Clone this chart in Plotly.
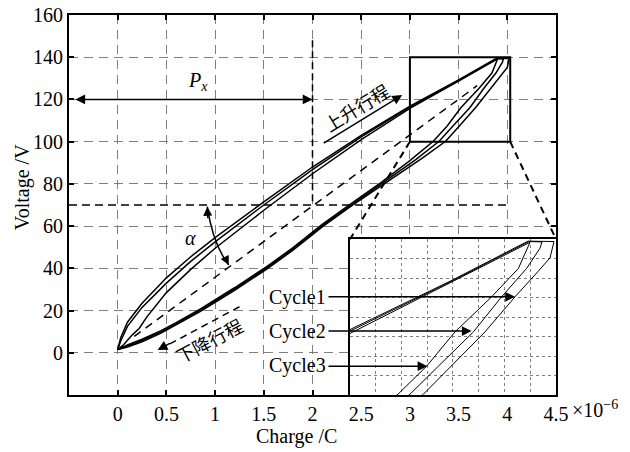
import plotly.graph_objects as go

# ---------------- data (Charge in 1e-6 C, Voltage in V) ----------------
# Cycle 1
c1_up_x = [0, 0.03, 0.1, 0.25, 0.5, 0.75, 1.0, 1.5, 2.0, 2.5, 3.0, 3.5, 3.89]
c1_up_v = [1.5, 7, 14.5, 23.5, 35.5, 45.5, 54.5, 71.5, 88, 103, 116.8, 129.2, 139.5]
c1_dn_x = [4.02, 4.0, 3.94, 3.825, 3.675, 3.508, 3.367, 3.12, 2.87, 2.71, 2.4, 2.1, 1.8, 1.53, 1.2, 0.85, 0.6, 0.44, 0.25, 0.1, 0]
c1_dn_v = [139.4, 135.2, 131.7, 125.2, 116.2, 107.4, 100.2, 92, 84.2, 79.6, 69.6, 59.6, 48.6, 39.6, 29.6, 19.6, 13.1, 9.2, 5.2, 2.7, 1.5]
# Cycle 2
c2_up_x = [0, 0.03, 0.1, 0.25, 0.5, 0.75, 1.0, 1.5, 2.0, 2.5, 3.0, 3.5, 3.895]
c2_up_v = [1.5, 5.5, 12.5, 21.5, 33, 43.3, 52.5, 70, 86.8, 102.3, 116.4, 129, 139.4]
c2_dn_x = [3.96, 3.95, 3.883, 3.758, 3.617, 3.442, 3.3, 3.06, 2.83, 2.71, 2.4, 2.1, 1.8, 1.53, 1.2, 0.85, 0.6, 0.44, 0.25, 0.1, 0]
c2_dn_v = [139.3, 137.7, 132.5, 125.2, 116.2, 107.4, 100.2, 91.5, 84, 80.2, 70.2, 60.2, 49.2, 40.2, 30.2, 20.2, 13.7, 9.8, 5.8, 3.2, 1.5]
# Cycle 3
c3_up_x = [0, 0.06, 0.15, 0.22, 0.3, 0.5, 0.75, 1.0, 1.5, 2.0, 2.5, 3.0, 3.5, 3.9]
c3_up_v = [1.5, 3.8, 8.5, 11.5, 17, 28.5, 39.5, 49.5, 67.5, 84.8, 101, 115.8, 128.7, 139.2]
c3_dn_x = [3.9, 3.842, 3.708, 3.525, 3.383, 3.24, 3.0, 2.8, 2.71, 2.4, 2.1, 1.8, 1.53, 1.2, 0.85, 0.6, 0.44, 0.25, 0.1, 0]
c3_dn_v = [139.2, 132.5, 125.2, 116.2, 107.4, 100.2, 91, 84, 80.8, 70.8, 60.8, 49.8, 40.8, 30.8, 20.8, 14.3, 10.4, 6.4, 3.7, 1.5]

cycle_names = ["Cycle1", "Cycle2", "Cycle3"]
# points on the descending branches that the cycle labels point to (inset coords)
cycle_tip_x = [3.825, 3.608, 3.387]
cycle_tip_v = [125.2, 116.4, 107.4]
cycle_label_v = [26.3, 10.3, -6.1]

x_tickvals = [0, 0.5, 1, 1.5, 2, 2.5, 3, 3.5, 4, 4.5]
x_ticktext = ["0", "0.5", "1", "1.5", "2", "2.5", "3", "3.5", "4", "4.5"]
y_tickvals = [0, 20, 40, 60, 80, 100, 120, 140, 160]

main_x_range = [-0.5, 4.5]
main_y_range = [-20, 160]
zoom_x_range = [3.0, 4.03]
zoom_y_range = [100, 140]
inset_dom_x = [0.577, 1.0]
inset_dom_y = [0.0, 0.41]

# reference constructions
px_level = 120          # P_x arrow height
px_end = 2.0            # P_x end charge
level_70 = 70
diag_start = (0.17, 7.8)
diag_end = (3.69, 126.5)

FONT = "Liberation Serif, Times New Roman, Noto Sans CJK SC"
CJK = "Noto Sans CJK SC"

cycles = [
    (c1_up_x + c1_dn_x, c1_up_v + c1_dn_v),
    (c2_up_x + c2_dn_x, c2_up_v + c2_dn_v),
    (c3_up_x + c3_dn_x, c3_up_v + c3_dn_v),
]

fig = go.Figure()
for (cx, cv), name in zip(cycles, cycle_names):
    fig.add_trace(go.Scatter(x=cx, y=cv, mode="lines", name=name,
                             line=dict(color="black", width=1.5),
                             xaxis="x", yaxis="y", showlegend=False))
for (cx, cv), name in zip(cycles, cycle_names):
    fig.add_trace(go.Scatter(x=cx, y=cv, mode="lines", name=name,
                             line=dict(color="black", width=1.0),
                             xaxis="x2", yaxis="y2", showlegend=False))

grid_gray = "#7f7f7f"
fig.update_layout(
    width=630, height=452,
    margin=dict(l=69, r=74, t=15, b=57),
    paper_bgcolor="white", plot_bgcolor="white",
    font=dict(family=FONT, size=20, color="black"),
    xaxis=dict(range=main_x_range, domain=[0, 1], tickvals=x_tickvals, ticktext=x_ticktext,
               showline=True, linecolor="black", linewidth=2, mirror="ticks",
               ticks="inside", ticklen=5, tickwidth=1.5, tickcolor="black",
               showgrid=True, gridcolor=grid_gray, gridwidth=1.3, griddash="9px,6px",
               zeroline=False, tickfont=dict(family=FONT, size=20), anchor="y",
               automargin=False),
    yaxis=dict(range=main_y_range, domain=[0, 1], tickvals=y_tickvals,
               showline=True, linecolor="black", linewidth=2, mirror="ticks",
               ticks="inside", ticklen=5, tickwidth=1.5, tickcolor="black",
               showgrid=True, gridcolor=grid_gray, gridwidth=1.3, griddash="9px,6px",
               zeroline=False, tickfont=dict(family=FONT, size=20), anchor="x",
               automargin=False),
    xaxis2=dict(range=zoom_x_range, domain=inset_dom_x, anchor="y2",
                tick0=zoom_x_range[0], dtick=(zoom_x_range[1] - zoom_x_range[0]) / 8,
                showticklabels=False, ticks="",
                showline=True, linecolor="black", linewidth=2, mirror=True,
                showgrid=True, gridcolor=grid_gray, gridwidth=1, griddash="3px,3px",
                zeroline=False, automargin=False),
    yaxis2=dict(range=zoom_y_range, domain=inset_dom_y, anchor="x2",
                tick0=zoom_y_range[0], dtick=(zoom_y_range[1] - zoom_y_range[0]) / 8,
                showticklabels=False, ticks="",
                showline=True, linecolor="black", linewidth=2, mirror=True,
                showgrid=True, gridcolor=grid_gray, gridwidth=1, griddash="3px,3px",
                zeroline=False, automargin=False),
)

def to_paper_x(v):
    return (v - main_x_range[0]) / (main_x_range[1] - main_x_range[0])

def to_paper_y(v):
    return (v - main_y_range[0]) / (main_y_range[1] - main_y_range[0])

shapes = []
# zoom rectangle
shapes.append(dict(type="rect", xref="x", yref="y", x0=zoom_x_range[0], x1=zoom_x_range[1],
                   y0=zoom_y_range[0], y1=zoom_y_range[1], line=dict(color="black", width=2)))
# connectors to inset
shapes.append(dict(type="line", xref="paper", yref="paper",
                   x0=to_paper_x(zoom_x_range[0]), y0=to_paper_y(zoom_y_range[0]),
                   x1=inset_dom_x[0], y1=inset_dom_y[1],
                   line=dict(color="black", width=2, dash="7px,5px")))
shapes.append(dict(type="line", xref="paper", yref="paper",
                   x0=to_paper_x(zoom_x_range[1]), y0=to_paper_y(zoom_y_range[0]),
                   x1=inset_dom_x[1], y1=inset_dom_y[1],
                   line=dict(color="black", width=2, dash="7px,5px")))
# vertical dashed at P_x end
shapes.append(dict(type="line", xref="x", yref="y", x0=px_end, x1=px_end, y0=148, y1=level_70,
                   line=dict(color="black", width=1.5, dash="7px,4px")))
# horizontal dashed at 70 V
shapes.append(dict(type="line", xref="x", yref="y", x0=main_x_range[0], x1=4.0, y0=level_70, y1=level_70,
                   line=dict(color="black", width=1.5, dash="8px,5px")))
# dashed diagonal
shapes.append(dict(type="line", xref="x", yref="y", x0=diag_start[0], y0=diag_start[1],
                   x1=diag_end[0], y1=diag_end[1],
                   line=dict(color="black", width=1.5, dash="8px,6px")))
# alpha arc
shapes.append(dict(type="path", xref="x", yref="y",
                   path="M 0.92,69.2 Q 0.976,51.5 1.14,41.6",
                   line=dict(color="black", width=1.5)))
# descending-stroke dashed arrow shaft
shapes.append(dict(type="line", xref="x", yref="y", x0=1.25, y0=21.8, x1=0.47, y1=2.6,
                   line=dict(color="black", width=1.5, dash="7px,5px")))
fig.update_layout(shapes=shapes)

ann = []
# P_x double arrow
ann.append(dict(x=px_end, y=px_level, ax=-0.45, ay=px_level, xref="x", yref="y",
                axref="x", ayref="y", text="", showarrow=True, arrowhead=2, startarrowhead=2,
                arrowside="end+start", arrowsize=1.3, startarrowsize=1.3, arrowwidth=1.5,
                arrowcolor="black"))
ann.append(dict(x=0.82, y=128.4, xref="x", yref="y", showarrow=False,
                text="<i>P</i><sub><i>x</i></sub>", font=dict(size=20, family=FONT)))
# alpha
ann.append(dict(x=0.75, y=54.2, xref="x", yref="y", showarrow=False,
                text="<i>α</i>", font=dict(size=20, family=FONT)))
ann.append(dict(x=0.92, y=69.2, ax=0.926, ay=63, xref="x", yref="y", axref="x", ayref="y",
                text="", showarrow=True, arrowhead=2, arrowsize=1.2, arrowwidth=1.5, arrowcolor="black"))
ann.append(dict(x=1.14, y=41.6, ax=1.10, ay=45.3, xref="x", yref="y", axref="x", ayref="y",
                text="", showarrow=True, arrowhead=2, arrowsize=1.2, arrowwidth=1.5, arrowcolor="black"))
# rising stroke
ann.append(dict(x=2.45, y=116.6, xref="x", yref="y", showarrow=False, text="上升行程",
                textangle=-31.5, font=dict(size=18, family=CJK)))
ann.append(dict(x=2.92, y=122.1, ax=2.10, ay=98.9, xref="x", yref="y", axref="x", ayref="y",
                text="", showarrow=True, arrowhead=2, arrowsize=1.3, arrowwidth=1.5, arrowcolor="black"))
# descending stroke
ann.append(dict(x=0.94, y=6.0, xref="x", yref="y", showarrow=False, text="下降行程",
                textangle=-28, font=dict(size=18, family=CJK)))
ann.append(dict(x=0.41, y=1.3, ax=0.55, ay=4.8, xref="x", yref="y", axref="x", ayref="y",
                text="", showarrow=True, arrowhead=2, arrowsize=1.3, arrowwidth=1.5, arrowcolor="black"))
# cycle labels and arrows
label_x = 2.155
for tx, tv in zip(cycle_tip_x, cycle_tip_v):
    ann.append(dict(x=tx, y=tv, xref="x2", yref="y2", text="", showarrow=True,
                    axref="x2", ayref="y2", ax=zoom_x_range[0] - 0.115, ay=tv,
                    arrowhead=2, arrowsize=1.3, arrowwidth=1.5, arrowcolor="black"))
for name, yv in zip(cycle_names, cycle_label_v):
    ann.append(dict(x=label_x, y=yv, xref="x", yref="y", text=name, showarrow=False,
                    xanchor="right", font=dict(size=20, family=FONT)))
# exponent
ann.append(dict(x=1.029, y=-0.037, xref="paper", yref="paper", xanchor="left", yanchor="middle",
                text="×10<sup>−6</sup>", showarrow=False, font=dict(size=20, family=FONT)))
# axis titles
ann.append(dict(x=1.834, y=-0.11, xref="x", yref="paper", text="Charge /C", showarrow=False,
                yanchor="middle", font=dict(size=20, family=FONT)))
ann.append(dict(x=-0.0965, y=0.547, xref="paper", yref="paper", text="Voltage /V", showarrow=False,
                textangle=-90, xanchor="center", yanchor="middle", font=dict(size=20, family=FONT)))
fig.update_layout(annotations=ann)

fig.write_html("out.html")
